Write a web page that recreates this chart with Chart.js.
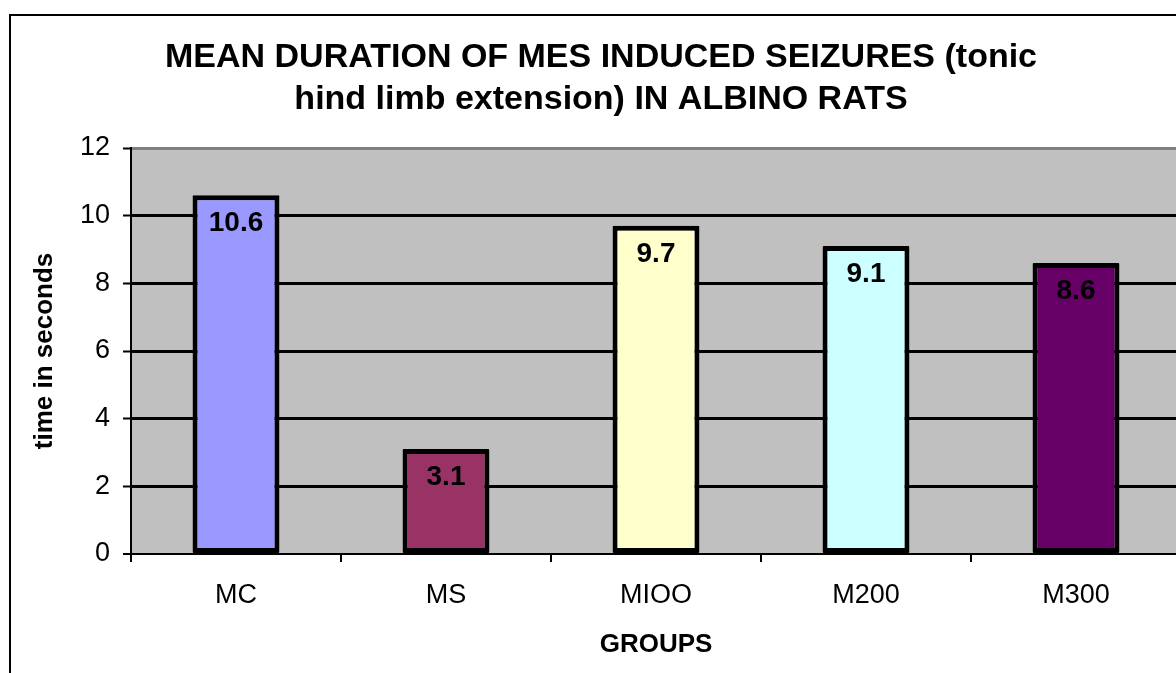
<!DOCTYPE html>
<html>
<head>
<meta charset="utf-8">
<script src="https://cdn.jsdelivr.net/npm/chart.js@4.4.1/dist/chart.umd.min.js"></script>
<style>
  html, body { margin: 0; padding: 0; background: #fff; overflow: hidden; }
  #wrap { position: relative; width: 1200px; height: 673px; }
</style>
</head>
<body>
<div id="wrap"><canvas id="seizureChart"></canvas></div>
<script>
const groups = ['MC', 'MS', 'MIOO', 'M200', 'M300'];
const durations = [10.6, 3.1, 9.7, 9.1, 8.6];
const barColors = ['#9999FF', '#993366', '#FFFFCC', '#CCFFFF', '#660066'];
const yTicks = [0, 2, 4, 6, 8, 10, 12];
const titleLines = ['MEAN DURATION OF MES INDUCED SEIZURES (tonic', 'hind limb extension) IN ALBINO RATS'];

const FONT = '"Liberation Sans", Arial, sans-serif';

// gray plot area + outer chart frame
const plotBackground = {
  id: 'plotBackground',
  beforeDraw(chart) {
    const { ctx, chartArea: a } = chart;
    ctx.save();
    ctx.fillStyle = '#C0C0C0';
    ctx.fillRect(a.left, a.top, a.right - a.left, a.bottom - a.top);
    ctx.strokeStyle = '#000';
    ctx.lineWidth = 2;
    ctx.strokeRect(10, 15, 3000, 3000);
    ctx.restore();
  }
};

// title centred on the whole chart frame (not just the padded box)
const frameTitle = {
  id: 'frameTitle',
  afterDraw(chart) {
    const { ctx } = chart;
    ctx.save();
    ctx.font = 'bold 34px ' + FONT;
    ctx.fillStyle = '#000';
    ctx.textAlign = 'center';
    ctx.textBaseline = 'middle';
    titleLines.forEach((t, i) => ctx.fillText(t, 601, 58 + i * 42));
    ctx.restore();
  }
};

// value labels just under the top of each bar
const barLabels = {
  id: 'barLabels',
  afterDatasetsDraw(chart) {
    const { ctx } = chart;
    const meta = chart.getDatasetMeta(0);
    ctx.save();
    ctx.font = 'bold 28px ' + FONT;
    ctx.fillStyle = '#000';
    ctx.textAlign = 'center';
    ctx.textBaseline = 'middle';
    meta.data.forEach((bar, i) => {
      ctx.fillText(durations[i].toFixed(1), bar.x, bar.y + 28);
    });
    ctx.restore();
  }
};

new Chart(document.getElementById('seizureChart'), {
  type: 'bar',
  data: {
    labels: groups,
    datasets: [{
      data: durations,
      backgroundColor: barColors,
      borderColor: '#000',
      borderWidth: 5,
      borderSkipped: false,
      borderRadius: 1,
      barPercentage: 0.414,
      categoryPercentage: 1
    }]
  },
  options: {
    responsive: true,
    maintainAspectRatio: false,
    animation: false,
    layout: { padding: { left: 0, right: 19, top: 148, bottom: 0 } },
    plugins: {
      legend: { display: false },
      tooltip: { enabled: false },
      title: { display: false }
    },
    scales: {
      x: {
        afterFit(scale) { scale.height = 119; },
        grid: {
          offset: true,
          drawOnChartArea: false,
          drawTicks: true,
          tickLength: 8,
          color: '#000',
          lineWidth: 2
        },
        border: { display: true, color: '#000', width: 2 },
        ticks: { color: '#000', font: { family: FONT, size: 27 }, padding: 17 },
        title: {
          display: true,
          text: 'GROUPS',
          color: '#000',
          font: { family: FONT, size: 26, weight: 'bold' },
          padding: { top: 0, bottom: 13 }
        }
      },
      y: {
        min: 0,
        max: 12,
        afterFit(scale) { scale.width = 131; },
        afterBuildTicks(scale) { scale.ticks = yTicks.map(v => ({ value: v })); },
        grid: {
          color: ctx => (ctx.tick && ctx.tick.value === 12 ? '#808080' : '#000'),
          lineWidth: ctx => (ctx.tick && ctx.tick.value === 0 ? 2 : 3),
          tickColor: '#000',
          tickWidth: 2,
          tickLength: 8
        },
        border: { display: true, color: '#000', width: 2 },
        ticks: { color: '#000', font: { family: FONT, size: 27 }, padding: 13 },
        title: {
          display: true,
          text: 'time in seconds',
          color: '#000',
          font: { family: FONT, size: 26, weight: 'bold' },
          padding: { top: 29, bottom: 0 }
        }
      }
    }
  },
  plugins: [plotBackground, barLabels, frameTitle]
});
</script>
</body>
</html>
